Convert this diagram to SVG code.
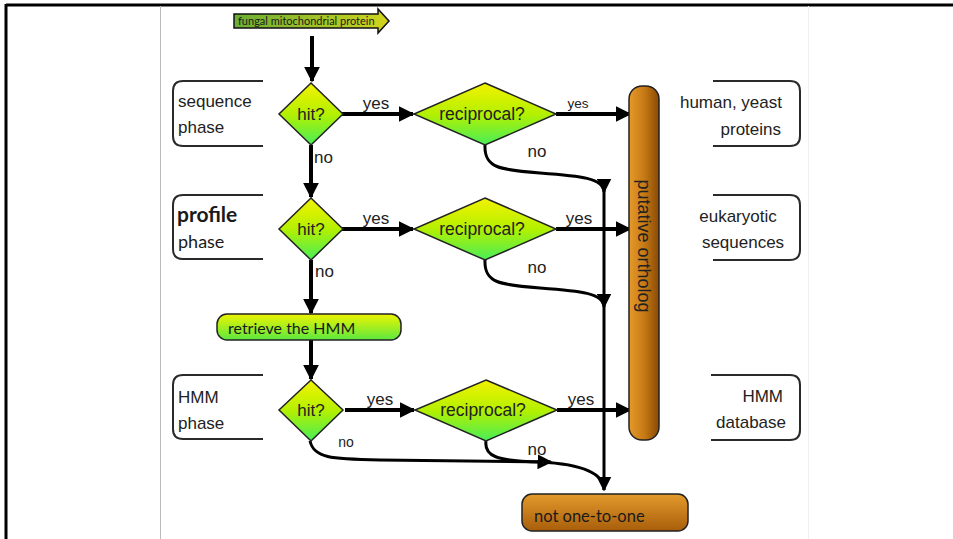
<svg xmlns="http://www.w3.org/2000/svg" width="953" height="539" viewBox="0 0 953 539">
<defs>
<linearGradient id="dia" x1="0" y1="0" x2="0" y2="1">
<stop offset="0" stop-color="#f2f200"/>
<stop offset="0.5" stop-color="#b4f000"/>
<stop offset="1" stop-color="#48ee58"/>
</linearGradient>
<linearGradient id="box" x1="0" y1="0" x2="0" y2="1">
<stop offset="0" stop-color="#eef400"/>
<stop offset="1" stop-color="#5ce840"/>
</linearGradient>
<linearGradient id="brown" x1="0" y1="0" x2="1" y2="0">
<stop offset="0" stop-color="#e59a2a"/>
<stop offset="0.5" stop-color="#c77a15"/>
<stop offset="1" stop-color="#8a4a05"/>
</linearGradient>
<linearGradient id="brownH" x1="0" y1="0" x2="0" y2="1">
<stop offset="0" stop-color="#e39a2c"/>
<stop offset="1" stop-color="#a85e0a"/>
</linearGradient>
<linearGradient id="start" x1="0" y1="0" x2="1" y2="0">
<stop offset="0" stop-color="#6aae34"/>
<stop offset="1" stop-color="#d2d41c"/>
</linearGradient>
<marker id="ah" viewBox="0 0 10 10" refX="9" refY="5" markerWidth="4" markerHeight="4" orient="auto" markerUnits="strokeWidth">
<path d="M0,0 L10,5 L0,10 z" fill="#000"/>
</marker>
<marker id="ahs" viewBox="0 0 10 10" refX="9" refY="5" markerWidth="5" markerHeight="5" orient="auto" markerUnits="strokeWidth">
<path d="M0,0 L10,5 L0,10 z" fill="#000"/>
</marker>
</defs>
<style>
.h{font-family:"Liberation Sans",Arial,sans-serif;fill:#222}
.g{font-family:Lato,"Open Sans",sans-serif;fill:#1a1a1a}
.br{fill:none;stroke:#2a2a2a;stroke-width:2}
.dm{fill:url(#dia);stroke:#222;stroke-width:1.5}
.c{fill:none;stroke:#000;stroke-width:4}
.cs{fill:none;stroke:#000;stroke-width:3}
</style>
<rect width="953" height="539" fill="#fff"/>
<line x1="6" y1="5" x2="953" y2="5" stroke="#000" stroke-width="3"/>
<line x1="6" y1="4" x2="6" y2="539" stroke="#000" stroke-width="3"/>
<line x1="160.5" y1="6" x2="160.5" y2="539" stroke="#bbb" stroke-width="1"/>
<line x1="808.5" y1="6" x2="808.5" y2="539" stroke="#f0f0f0" stroke-width="1"/>

<g id="connectors">
<line class="c" x1="312" y1="36" x2="312" y2="81" marker-end="url(#ah)"/>
<line class="c" x1="342" y1="114" x2="413" y2="114" marker-end="url(#ah)"/>
<line class="c" x1="556" y1="114" x2="630" y2="114" marker-end="url(#ah)"/>
<line class="c" x1="311" y1="145" x2="311" y2="197" marker-end="url(#ah)"/>
<line class="c" x1="342" y1="229" x2="413" y2="229" marker-end="url(#ah)"/>
<line class="c" x1="556" y1="229" x2="630" y2="229" marker-end="url(#ah)"/>
<line class="c" x1="311" y1="260" x2="311" y2="313" marker-end="url(#ah)"/>
<line class="c" x1="311" y1="340" x2="311" y2="379" marker-end="url(#ah)"/>
<line class="c" x1="345" y1="410" x2="414" y2="410" marker-end="url(#ah)"/>
<line class="c" x1="557" y1="410" x2="630" y2="410" marker-end="url(#ah)"/>
<path class="cs" d="M485,145 C484,168 500,170 540,173 C580,176 604,178 604,192" marker-end="url(#ahs)"/>
<path class="cs" d="M485,260 C484,283 500,285 540,288 C580,291 604,293 604,307" marker-end="url(#ahs)"/>
<line class="cs" x1="604" y1="185" x2="604" y2="490" marker-end="url(#ahs)"/>
<path class="cs" d="M310,441 C314,458 330,459 380,460 L551,462" marker-end="url(#ahs)"/>
<path class="cs" d="M486,441 C484,456 496,461 540,462 C580,464 604,472 604,490"/>
</g>

<g id="start-node">
<polygon points="234,14 378,14 378,9 389,21 378,33 378,28 234,28" fill="url(#start)" stroke="#111" stroke-width="1.5"/>
<text class="g" x="238" y="25" font-size="11" fill="#1a2a05">fungal mitochondrial protein</text>
</g>

<g id="sequence-phase">
<path class="br" d="M263,81 H183 Q173,81 173,91 V136 Q173,146 183,146 H263"/>
<text class="h" x="178" y="107" font-size="17">sequence</text>
<text class="h" x="178" y="133" font-size="17">phase</text>
</g>
<g id="profile-phase">
<path class="br" d="M263,195 H183 Q173,195 173,205 V249 Q173,259 183,259 H263"/>
<text class="g" x="177" y="222" font-size="21" font-weight="bold">profile</text>
<text class="g" x="178" y="248" font-size="18">phase</text>
</g>
<g id="hmm-phase">
<path class="br" d="M263,375 H183 Q173,375 173,385 V429 Q173,439 183,439 H263"/>
<text class="h" x="178" y="403" font-size="17">HMM</text>
<text class="h" x="178" y="429" font-size="17">phase</text>
</g>

<g id="hit1">
<polygon class="dm" points="311,83 343,114 311,145 279,114"/>
<text class="h" x="311" y="120" font-size="17" text-anchor="middle">hit?</text>
</g>
<g id="hit2">
<polygon class="dm" points="311,198 343,229 311,260 279,229"/>
<text class="h" x="311" y="235" font-size="17" text-anchor="middle">hit?</text>
</g>
<g id="hit3">
<polygon class="dm" points="311,380 343,410 311,441 279,410"/>
<text class="h" x="311" y="416" font-size="17" text-anchor="middle">hit?</text>
</g>

<g id="recip1">
<polygon class="dm" points="485,83 556,114 485,145 414,114"/>
<text class="h" x="482" y="120" font-size="17.5" text-anchor="middle">reciprocal?</text>
</g>
<g id="recip2">
<polygon class="dm" points="485,198 556,229 485,260 414,229"/>
<text class="h" x="482" y="235" font-size="17.5" text-anchor="middle">reciprocal?</text>
</g>
<g id="recip3">
<polygon class="dm" points="486,380 557,410 486,441 415,410"/>
<text class="h" x="483" y="416" font-size="17.5" text-anchor="middle">reciprocal?</text>
</g>

<g id="retrieve">
<rect x="217" y="314" width="184" height="26" rx="10" fill="url(#box)" stroke="#222" stroke-width="1.5"/>
<text class="g" x="228" y="334" font-size="16">retrieve the HMM</text>
</g>

<g id="putative">
<rect x="629" y="86" width="30" height="354" rx="13" fill="url(#brown)" stroke="#222" stroke-width="1.5"/>
<text class="h" transform="translate(638,246) rotate(90)" font-size="18" text-anchor="middle" fill="#1a1000">putative ortholog</text>
</g>

<g id="not-one">
<rect x="522" y="494" width="166" height="37" rx="10" fill="url(#brownH)" stroke="#222" stroke-width="1.5"/>
<text class="g" x="534" y="522" font-size="16.5" fill="#1a1000">not one-to-one</text>
</g>

<g id="human-yeast">
<path class="br" d="M713,81 H790 Q800,81 800,91 V136 Q800,146 790,146 H713"/>
<text class="h" x="782" y="108" font-size="17" text-anchor="end">human, yeast</text>
<text class="h" x="781" y="135" font-size="17" text-anchor="end">proteins</text>
</g>
<g id="eukaryotic">
<path class="br" d="M713,195 H790 Q800,195 800,205 V250 Q800,260 790,260 H713"/>
<text class="h" x="738" y="222" font-size="17" text-anchor="middle">eukaryotic</text>
<text class="h" x="743" y="248" font-size="17" text-anchor="middle">sequences</text>
</g>
<g id="hmm-db">
<path class="br" d="M711,375 H790 Q800,375 800,385 V430 Q800,440 790,440 H711"/>
<text class="h" x="783" y="402" font-size="17" text-anchor="end">HMM</text>
<text class="h" x="786" y="428" font-size="17" text-anchor="end">database</text>
</g>

<g id="labels">
<text class="h" x="376" y="109" font-size="17" text-anchor="middle">yes</text>
<text class="h" x="578" y="108" font-size="13.5" text-anchor="middle">yes</text>
<text class="h" x="314" y="163" font-size="17">no</text>
<text class="h" x="537" y="157" font-size="17" text-anchor="middle">no</text>
<text class="h" x="376" y="224" font-size="17" text-anchor="middle">yes</text>
<text class="h" x="579" y="224" font-size="17" text-anchor="middle">yes</text>
<text class="h" x="315" y="277" font-size="17">no</text>
<text class="h" x="537" y="273" font-size="17" text-anchor="middle">no</text>
<text class="h" x="380" y="405" font-size="17" text-anchor="middle">yes</text>
<text class="h" x="581" y="405" font-size="17" text-anchor="middle">yes</text>
<text class="h" x="346" y="447" font-size="14" text-anchor="middle">no</text>
<text class="h" x="537" y="455" font-size="17" text-anchor="middle">no</text>
</g>
</svg>
